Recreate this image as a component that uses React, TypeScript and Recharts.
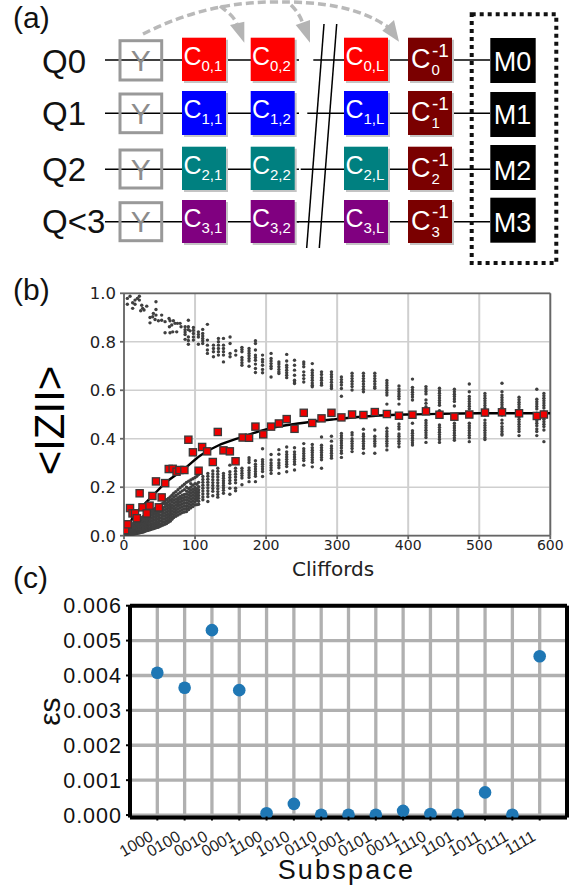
import React from 'react';
import {
  ComposedChart, Scatter, Line, XAxis, YAxis, CartesianGrid, ReferenceLine,
} from 'recharts';

// ---------- panel (a) ----------
const rowNames = ['Q0', 'Q1', 'Q2', 'Q<3'];
const rowColors = ['#ff0000', '#0000ff', '#008080', '#800080'];
const measureLabels = ['M0', 'M1', 'M2', 'M3'];
const lastColLabels = ['L', 'L', 'L', 'L'];

// ---------- panel (b) ----------
const earlyUpper: number[][] = [
  [4.7,.979],[8.5,.988],[12.2,.961],[15.5,.972],[15.5,.955],[18.8,.979],[21.6,.988],[21.6,.972],[12.2,.938],[4.7,.955],
  [25,.951],[23.5,.928],[26.3,.938],[28.2,.931],[32,.947],[45,.965],[45,.933],[41.3,.917],[40.4,.903],[45,.91],
  [36.6,.9],[36.6,.878],[43.7,.892],[48.4,.887],[53,.91],[53,.889],[57.8,.883],[63.4,.896],[64.8,.887],[69.5,.887],
  [63.9,.862],[67.2,.869],[71.9,.876],[75.2,.876],[78.9,.876],[80.3,.862],[57.8,.837],[64.8,.837],[68.6,.841],[74.2,.841],
  [90.6,.889],[86,.862],[90.6,.862],[93,.845],[97.7,.859],[104.7,.841],[110.8,.851],[117.4,.872],[86,.81],[90.6,.82],
  [90.6,.79],[97.7,.807],[97.7,.834],[104.7,.82],[104.7,.79],[110.8,.834],[110.8,.814],[110.8,.793],[117.4,.807],[117.4,.786],
  [117.4,.766],[117.4,.752],[125.9,.786],[125.9,.772],[125.9,.759],[125.9,.738],[132.9,.814],[132.9,.8],[132.9,.786],[132.9,.772],
  [132.9,.759],[132.9,.745],[140,.814],[140,.786],[140,.772],[140,.759],[140,.745],[140,.717],[149.3,.82],[149.3,.793],
  [149.3,.752],[149.3,.738],[157.3,.763],[157.3,.745],[86,.85],[86,.84],[86,.83],[90.6,.85],[90.6,.805],[97.7,.847],
  [97.7,.82],[104.7,.83],[110.8,.824],[110.8,.804],
];

const upperColumns: [number, number[]][] = [
  [166,[.777,.768,.759,.735,.725,.714,.703]],
  [176,[.772,.762,.752,.742,.731,.721,.699]],
  [185,[.804,.793,.766,.745,.735,.724,.708,.69,.673]],
  [195,[.745,.727,.717,.703,.686,.672]],
  [207,[.752,.731,.721,.71,.699,.69,.655]],
  [218,[.717,.708,.697,.686,.676,.669]],
  [229,[.748,.721,.703,.694,.683,.672,.662,.652]],
  [240,[.724,.703,.683,.662,.641,.634,.628]],
  [253,[.717,.708,.697,.676,.662,.648,.634]],
  [265,[.71,.683,.672,.662,.652,.641,.63,.621,.614]],
  [278,[.676,.665,.652,.641,.63,.621]],
  [292,[.676,.665,.655,.644,.633,.622,.614,.607]],
  [306,[.655,.644,.633,.622,.607,.575]],
  [321,[.67,.659,.648,.637,.626,.615,.601]],
  [337,[.67,.659,.648,.637,.626,.615,.604,.594]],
  [353,[.67,.659,.648,.637,.626,.615,.608]],
  [370,[.64,.63,.62,.61,.6,.59,.58,.543]],
  [387,[.618,.605,.595,.585,.575,.565,.543]],
  [406,[.646,.612,.602,.592,.582,.572,.56]],
  [425,[.615,.605,.595,.585,.56,.546,.532]],
  [444,[.608,.598,.588,.578,.568,.558,.548,.538,.516]],
  [465,[.604,.594,.584,.574,.564,.554,.535]],
  [486,[.626,.594,.574,.564,.554,.544,.534,.524,.505]],
  [508,[.587,.577,.567,.557,.547,.537,.527,.512]],
  [532,[.629,.594,.58,.57,.56,.55,.54,.53,.519]],
  [556,[.571,.561,.551,.541,.531,.521,.505]],
  [581,[.604,.563,.553,.543,.533,.523,.505]],
  [591,[.587,.577,.567,.557,.547,.537,.527,.512]],
];

const lowerColumns: [number, number[]][] = [
  [4,[.002,.01,.02,.03]],
  [7,[.004,.012,.022,.032]],
  [10,[.005,.014,.024,.034,.044]],
  [13,[.006,.016,.026,.036,.046]],
  [16,[.008,.018,.028,.038,.048,.056]],
  [19,[.01,.02,.03,.04,.05,.06]],
  [22,[.012,.022,.032,.042,.052,.062,.07]],
  [25,[.014,.024,.034,.044,.054,.064,.074]],
  [28,[.016,.026,.036,.046,.056,.066,.08]],
  [31,[.02,.03,.04,.05,.06,.07,.085]],
  [34,[.022,.033,.044,.055,.066,.078,.09]],
  [38,[.026,.038,.05,.062,.074,.087,.1]],
  [42,[.03,.042,.054,.066,.078,.09,.1,.108]],
  [46,[.034,.046,.058,.07,.082,.094,.106,.118]],
  [50,[.038,.05,.062,.074,.086,.098,.11,.125]],
  [55,[.044,.056,.068,.08,.092,.104,.116,.135]],
  [60,[.05,.062,.074,.086,.098,.11,.122,.134,.148]],
  [65,[.06,.072,.084,.096,.108,.12,.132,.146,.16]],
  [70,[.075,.087,.099,.111,.123,.135,.147,.16,.175]],
  [76,[.085,.097,.109,.121,.133,.145,.157,.172,.19]],
  [82,[.095,.107,.119,.131,.143,.155,.167,.185,.205]],
  [88,[.1,.112,.124,.136,.148,.16,.172,.184,.2,.22]],
  [94,[.115,.127,.139,.151,.163,.175,.187,.2,.215,.23]],
  [100,[.127,.139,.151,.163,.175,.187,.199,.215,.24]],
  [105,[.13,.142,.154,.166,.178,.19,.202,.22,.252]],
  [111,[.244,.232,.22,.208,.196,.184,.172,.16,.148]],
  [118,[.257,.245,.233,.221,.209,.197,.185,.173,.161,.141]],
  [125,[.267,.255,.243,.231,.219,.207,.195,.183,.165]],
  [132,[.278,.266,.254,.242,.23,.218,.206,.194,.182,.17,.159]],
  [140,[.257,.247,.237,.227,.217,.207,.197,.187,.175]],
  [149,[.291,.264,.252,.24,.228,.216,.196,.171]],
  [157,[.278,.266,.254,.242,.23,.218,.196,.185]],
  [166,[.278,.268,.258,.248,.238,.21]],
  [176,[.322,.312,.302,.28,.27,.26,.25,.24,.223]],
  [185,[.309,.295,.285,.275,.265,.255,.245,.223]],
  [195,[.359,.314,.305,.295,.285,.275,.265,.244]],
  [207,[.335,.312,.3,.29,.28,.27,.257]],
  [218,[.355,.336,.312,.3,.29,.28,.257]],
  [229,[.366,.346,.335,.325,.315,.305,.295,.285,.264]],
  [240,[.363,.346,.335,.325,.315,.305,.295,.271]],
  [253,[.38,.359,.349,.339,.329,.319,.31,.291]],
  [265,[.376,.363,.353,.343,.333,.323,.313,.303,.284]],
  [278,[.407,.373,.363,.353,.343,.333,.323,.313,.278]],
  [292,[.41,.39,.37,.36,.35,.34,.33,.32]],
  [306,[.422,.412,.402,.392,.382,.372,.362,.35,.34,.323]],
  [321,[.425,.415,.4,.39,.38,.37,.36,.347]],
  [337,[.439,.42,.41,.4,.39,.38,.37,.36,.34]],
  [353,[.436,.41,.4,.39,.38,.37,.34]],
  [370,[.443,.43,.42,.41,.4,.39,.38,.37,.354]],
  [387,[.461,.45,.44,.42,.41,.4,.39,.38,.367]],
  [406,[.464,.433,.423,.413,.403,.393,.383,.374]],
  [425,[.475,.465,.455,.445,.435,.425,.415,.405,.385]],
  [444,[.457,.447,.437,.427,.417,.407,.397,.385]],
  [465,[.464,.454,.444,.434,.424,.414,.404,.394]],
  [486,[.464,.454,.444,.434,.424,.414,.404,.388]],
  [508,[.498,.477,.465,.455,.445,.435,.425,.415,.405,.397]],
  [532,[.498,.477,.464,.45,.44,.43,.42,.415]],
  [556,[.498,.49,.48,.47,.46,.45,.44,.43,.413]],
  [581,[.484,.474,.464,.454,.44,.43,.413]],
  [591,[.498,.49,.48,.47,.46,.45,.436,.388]],
];

// the solid part of the rising band, where the runs sit between the columns above
const lowerDense: [number, number[]][] = [
  [2,[.001,.008,.016]],
  [5.5,[.003,.008,.017,.027,.037]],
  [8.5,[.005,.01,.018,.028,.038]],
  [11.5,[.006,.01,.02,.03,.04,.05]],
  [14.5,[.007,.012,.022,.032,.042,.052]],
  [17.5,[.009,.014,.024,.034,.044,.054,.06]],
  [20.5,[.011,.016,.026,.036,.046,.056,.066]],
  [23.5,[.013,.018,.028,.038,.048,.058,.068]],
  [26.5,[.015,.021,.03,.04,.05,.06,.07,.077]],
  [29.5,[.018,.025,.035,.045,.055,.065,.075,.082]],
  [32.5,[.021,.027,.038,.05,.06,.072,.084,.088]],
  [36,[.024,.032,.044,.056,.068,.08,.092,.096]],
  [40,[.028,.036,.048,.06,.072,.084,.096,.104]],
  [44,[.032,.04,.052,.064,.076,.088,.1,.112]],
  [48,[.035,.044,.056,.068,.08,.092,.104,.116,.122]],
  [52.5,[.041,.05,.062,.074,.086,.098,.11,.122,.13]],
  [57.5,[.047,.058,.07,.082,.094,.106,.118,.13,.14]],
  [62.5,[.055,.066,.078,.09,.102,.114,.126,.14,.154]],
  [67.5,[.068,.078,.09,.102,.114,.126,.14,.152,.167]],
  [73,[.08,.092,.104,.116,.128,.14,.152,.166,.182]],
  [79,[.09,.102,.114,.126,.138,.15,.162,.178,.198]],
  [85,[.098,.11,.122,.134,.146,.158,.17,.19,.212]],
  [91,[.108,.12,.132,.144,.156,.168,.18,.195,.225]],
  [97,[.12,.132,.144,.156,.168,.18,.192,.208,.235]],
  [102.5,[.128,.146,.158,.17,.182,.194,.212,.245]],
];

const redX = [1.5,5,8.5,12,15.5,18,22,26,32,36,40,45,49,53,58,63,68.5,74,78,85,90.6,97,105,110,117,125,132,140,149,157,167,176,185,196,207,218,229,240,253,265,278,292,306,321,337,353,370,387,406,425,444,465,486,508,532,556,581,591];
const redY = [.023,.047,.114,.092,.092,.072,.175,.117,.092,.124,.164,.224,.117,.158,.217,.275,.276,.264,.271,.271,.396,.344,.268,.366,.348,.304,.428,.352,.348,.307,.405,.404,.45,.418,.45,.463,.481,.441,.507,.465,.484,.507,.488,.5,.498,.51,.502,.495,.499,.513,.499,.491,.5,.508,.509,.505,.494,.5];

const fitX = [0,5,13,26,40,58,83,107,132,167,201,248,295,350,400,450,500,550,600];
const fitY = [0,.032,.078,.122,.164,.217,.271,.33,.371,.408,.44,.464,.48,.494,.5,.503,.505,.505,.505];

const grayPoints = [
  ...earlyUpper.map(([x, y]) => ({ x, y })),
  ...upperColumns.flatMap(([x, ys]) => ys.map((y) => ({ x, y }))),
  ...lowerColumns.flatMap(([x, ys]) => ys.map((y) => ({ x, y }))),
  ...lowerDense.flatMap(([x, ys]) => ys.map((y) => ({ x, y }))),
];
const redPoints = redX.map((x, i) => ({ x, y: redY[i] }));
const fitPoints = fitX.map((x, i) => ({ x, y: fitY[i] }));
const bXTicks = [0, 100, 200, 300, 400, 500, 600];
const bYTicks = [0, 0.2, 0.4, 0.6, 0.8, 1];

// ---------- panel (c) ----------
const subspaces = ['1000','0100','0010','0001','1100','1010','0110','1001','0101','0011','1110','1101','1011','0111','1111'];
const epsilon = [.00408,.00365,.0053,.00358,.00005,.00032,.00001,.00001,.00001,.00012,.00003,.00001,.00065,.00001,.00455];
const cYTicks = [0, .001, .002, .003, .004, .005, .006];
const cPoints = subspaces.map((_, i) => ({ x: i, y: epsilon[i] }));
const cXTicks = subspaces.map((_, i) => i);

const ARIAL = 'Liberation Sans';
const DEJAVU = 'DejaVu Sans';

const rowY = [60, 113.3, 169.3, 221.7];
const qBase = [73, 125, 181, 233];
const yBox = [[40.7, 39.3], [94, 38.7], [150, 38], [202.7, 38]];
const cBox = [[37.7, 43.3], [91, 44], [146.7, 43.3], [200, 43]];
const mBox = [[38, 45], [92, 45], [145, 45], [197.7, 45]];
const wireResume = [313.3, 307.3, 300.7, 296.7];

function GateLabel({ x, y, sub }: { x: number; y: number; sub: string }) {
  return (
    <g fill="#fff" fontFamily={ARIAL}>
      <text x={x} y={y} fontSize={25}>C</text>
      <text x={x + 18} y={y + 6} fontSize={15}>{sub}</text>
    </g>
  );
}

function Circuit() {
  return (
    <svg width={574} height={270} style={{ position: 'absolute', left: 0, top: 0 }}>
      <text x={13} y={28} fontSize={30} fontFamily={ARIAL} fill="#111">(a)</text>
      {rowNames.map((name, i) => (
        <g key={name}>
          <line x1={105} x2={299} y1={rowY[i]} y2={rowY[i]} stroke="#000" strokeWidth={1.5} />
          <line x1={wireResume[i]} x2={490} y1={rowY[i]} y2={rowY[i]} stroke="#000" strokeWidth={1.5} />
          <text x={42} y={qBase[i]} fontSize={33} fontFamily={ARIAL} fill="#111">{name}</text>
          <rect x={120} y={yBox[i][0]} width={41.7} height={yBox[i][1]} fill="none" stroke="#999" strokeWidth={3} />
          <text x={140.7} y={rowY[i] + 10.7} fontSize={30} fontFamily={ARIAL} fill="#8c8c8c" textAnchor="middle">Y</text>
          {[182, 250.7, 344, 408].map((bx, c) => (
            <g key={c}>
              <rect x={bx + 2} y={cBox[i][0] + 2} width={44} height={cBox[i][1]} fill="#c4c4c4" />
              <rect x={bx} y={cBox[i][0]} width={44} height={cBox[i][1]} fill={c === 3 ? '#7a0000' : rowColors[i]} />
            </g>
          ))}
          <GateLabel x={183.5} y={rowY[i] + 5} sub={`${i},1`} />
          <GateLabel x={252} y={rowY[i] + 5} sub={`${i},2`} />
          <GateLabel x={345.5} y={rowY[i] + 5} sub={`${i},${lastColLabels[i]}`} />
          <g fill="#fff" fontFamily={ARIAL}>
            <text x={411} y={rowY[i] + 8} fontSize={27}>C</text>
            <text x={432} y={rowY[i] - 3.5} fontSize={19}>-1</text>
            <text x={431.5} y={rowY[i] + 15} fontSize={15}>{i}</text>
          </g>
          <rect x={490.3} y={mBox[i][0]} width={45.4} height={mBox[i][1]} fill="#000" />
          <text x={512.5} y={rowY[i] + 10.5} fontSize={27} fontFamily={ARIAL} fill="#fff" textAnchor="middle">{measureLabels[i]}</text>
        </g>
      ))}
      {/* dashed arcs */}
      <g fill="none" stroke="#b9b9b9" strokeWidth={3.5} strokeDasharray="8 4">
        <path d="M143 34 C 175 18, 215 3, 270 2 S 360 8, 388 27" />
        <path d="M220 6 C 226 11, 233 15, 237 24" />
        <path d="M291 5 C 296 10, 300 15, 303 24" />
      </g>
      <g fill="#b4b4b4">
        <polygon points="244.3,42.7 230,25 244.3,21.7" />
        <polygon points="310,42.7 295.7,25 310,20" />
        <polygon points="399,41.7 382.3,30.7 394,20" />
      </g>
      <line x1={324} y1={24} x2={306.7} y2={248} stroke="#000" strokeWidth={1.5} />
      <line x1={336.7} y1={24} x2={319.3} y2={248} stroke="#000" strokeWidth={1.5} />
      <rect x={471.7} y={14.3} width={84.6} height={248.7} fill="none" stroke="#111" strokeWidth={4} strokeDasharray="4 4" />
    </svg>
  );
}

const GrayDot = (p: any) => <circle cx={p.cx} cy={p.cy} r={1.7} fill="#404040" />;
const RedSquare = (p: any) => (
  <rect x={p.cx - 3.6} y={p.cy - 3.6} width={7.2} height={7.2} fill="#f00000" stroke="#3a3a3a" strokeWidth={1.3} />
);
const BlueDot = (p: any) => <circle cx={p.cx} cy={p.cy} r={6.3} fill="#1f77b4" />;

const SubspaceTick = (p: any) => {
  const { x, y, payload } = p;
  return (
    <g>
      <line x1={x} x2={x} y1={y - 9} y2={y - 5} stroke="#000" strokeWidth={2} />
      <text
        x={x - 3}
        y={y + 14}
        fontSize={16}
        fontFamily={ARIAL}
        fill="#222"
        textAnchor="end"
        transform={`rotate(-30 ${x - 3} ${y + 14})`}
      >
        {subspaces[payload.value]}
      </text>
    </g>
  );
};

function PanelB() {
  return (
    <div style={{ position: 'absolute', left: 0, top: 280 }}>
      <ComposedChart
        width={574}
        height={300}
        margin={{ top: 13.3, right: 23.7, bottom: 0, left: 0 }}
      >
        <CartesianGrid stroke="#cfcfcf" strokeWidth={2} fill="none" horizontal={false} />
        <CartesianGrid stroke="#cfcfcf" strokeWidth={1.4} fill="none" vertical={false} />
        <XAxis
          type="number"
          dataKey="x"
          domain={[0, 600]}
          ticks={bXTicks}
          height={44.3}
          allowDataOverflow
          stroke="#666"
          strokeWidth={1.8}
          tick={{ fontFamily: DEJAVU, fontSize: 14, fill: '#222' }}
          tickSize={3.5}
          tickMargin={1}
          label={{ value: 'Cliffords', position: 'insideBottom', offset: 4, dx: -4, style: { fontFamily: DEJAVU, fontSize: 20, fill: '#222' } }}
        />
        <YAxis
          type="number"
          dataKey="y"
          domain={[0, 1]}
          ticks={bYTicks}
          width={124}
          allowDataOverflow
          stroke="#666"
          strokeWidth={1.8}
          tick={{ fontFamily: DEJAVU, fontSize: 16.5, fill: '#222' }}
          tickFormatter={(v: number) => v.toFixed(1)}
          tickSize={4}
          tickMargin={4}
          label={{ value: '<IZII>', angle: -90, position: 'insideLeft', dx: 44, dy: 6, style: { fontFamily: ARIAL, fontSize: 42, fill: '#000', textAnchor: 'middle' } }}
        />
        <ReferenceLine x={600} stroke="#666" strokeWidth={1.8} />
        <ReferenceLine y={1} stroke="#666" strokeWidth={1.8} />
        <Scatter data={grayPoints} dataKey="y" shape={GrayDot} isAnimationActive={false} />
        <Scatter data={redPoints} dataKey="y" shape={RedSquare} isAnimationActive={false} />
        <Line data={fitPoints} dataKey="y" type="monotone" stroke="#000" strokeWidth={2.4} dot={false} legendType="none" isAnimationActive={false} />
      </ComposedChart>
    </div>
  );
}

function PanelC() {
  return (
    <div style={{ position: 'absolute', left: 0, top: 590 }}>
      <ComposedChart
        width={574}
        height={302}
        margin={{ top: 15.7, right: 7, bottom: 0, left: 0 }}
      >
        <CartesianGrid stroke="#b0b0b0" strokeWidth={3.3} fill="none" />
        <XAxis
          type="number"
          dataKey="x"
          domain={[-1, 15]}
          ticks={cXTicks}
          interval={0}
          height={74.5}
          allowDataOverflow
          axisLine={false}
          tick={SubspaceTick}
          tickLine={false}
          label={{ value: 'Subspace', position: 'insideBottom', offset: 13, dx: -2, style: { fontFamily: ARIAL, fontSize: 27, letterSpacing: 2.2, fill: '#111' } }}
        />
        <YAxis
          type="number"
          dataKey="y"
          domain={[-0.00007, 0.006]}
          ticks={cYTicks}
          interval={0}
          width={130}
          allowDataOverflow
          axisLine={false}
          tick={{ fontFamily: ARIAL, fontSize: 21.5, letterSpacing: 1, fill: '#111' }}
          tickFormatter={(v: number) => v.toFixed(3)}
          tickSize={4}
          tickLine={{ stroke: '#000', strokeWidth: 2 }}
          tickMargin={4}
          label={{ value: 'εs', angle: -90, position: 'insideLeft', dx: 44, style: { fontFamily: ARIAL, fontSize: 30, fill: '#111', textAnchor: 'middle' } }}
        />
        <Scatter data={cPoints} dataKey="y" shape={BlueDot} isAnimationActive={false} />
        <ReferenceLine x={-1} stroke="#000" strokeWidth={4} />
        <ReferenceLine x={15} stroke="#000" strokeWidth={4} />
        <ReferenceLine y={-0.00007} stroke="#000" strokeWidth={4} />
        <ReferenceLine y={0.006} stroke="#000" strokeWidth={4} />
      </ComposedChart>
    </div>
  );
}

export default function App() {
  return (
    <div style={{ position: 'absolute', left: 0, top: 0, width: 574, height: 892, overflow: 'hidden', background: '#fff' }}>
      <Circuit />
      <PanelB />
      <PanelC />
      <svg width={574} height={892} style={{ position: 'absolute', left: 0, top: 0, pointerEvents: 'none' }}>
        <text x={13} y={300} fontSize={30} fontFamily={ARIAL} fill="#111">(b)</text>
        <text x={13} y={588} fontSize={30} fontFamily={ARIAL} fill="#111">(c)</text>
      </svg>
    </div>
  );
}
